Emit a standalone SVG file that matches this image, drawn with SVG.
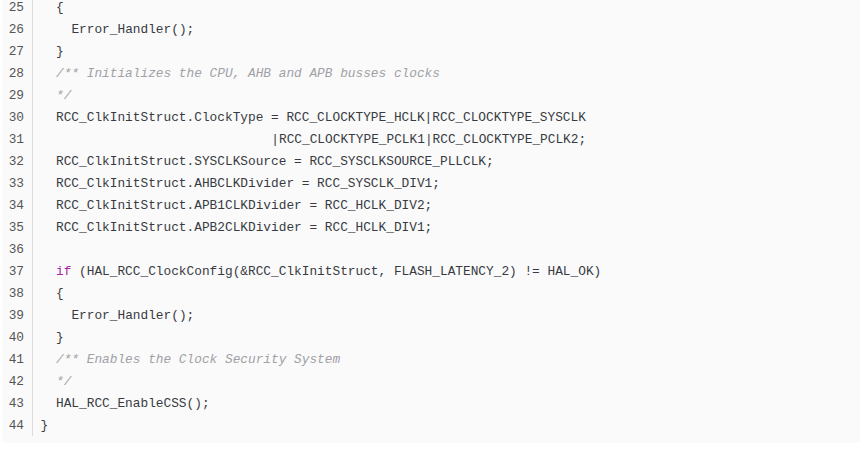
<svg xmlns="http://www.w3.org/2000/svg" width="860" height="449" viewBox="0 0 860 449">
<style>
.ln{font-family:"Liberation Mono","DejaVu Sans Mono",monospace;font-size:12.8px;fill:#555;text-anchor:end}
.c{font-family:"Liberation Mono","DejaVu Sans Mono",monospace;font-size:12.8px;fill:#383a42;white-space:pre}
.cm{fill:#a0a1a7;font-style:italic}
.kw{fill:#a626a4}
</style>
<rect x="0" y="0" width="860" height="449" fill="#ffffff"/>
<rect id="bg" x="2.5" y="-10" width="870" height="453" rx="4" fill="#fafafa"/>
<line x1="32.5" y1="0" x2="32.5" y2="436" stroke="#dcdcdc" stroke-width="1"/>
<g id="linenumbers">
<text class="ln" x="24" y="11.3">25</text>
<text class="ln" x="24" y="33.3">26</text>
<text class="ln" x="24" y="55.3">27</text>
<text class="ln" x="24" y="77.3">28</text>
<text class="ln" x="24" y="99.3">29</text>
<text class="ln" x="24" y="121.3">30</text>
<text class="ln" x="24" y="143.3">31</text>
<text class="ln" x="24" y="165.3">32</text>
<text class="ln" x="24" y="187.3">33</text>
<text class="ln" x="24" y="209.3">34</text>
<text class="ln" x="24" y="231.3">35</text>
<text class="ln" x="24" y="253.3">36</text>
<text class="ln" x="24" y="275.3">37</text>
<text class="ln" x="24" y="297.3">38</text>
<text class="ln" x="24" y="319.3">39</text>
<text class="ln" x="24" y="341.3">40</text>
<text class="ln" x="24" y="363.3">41</text>
<text class="ln" x="24" y="385.3">42</text>
<text class="ln" x="24" y="407.3">43</text>
<text class="ln" x="24" y="429.3">44</text>
</g>
<g id="code">
<text class="c" x="56" y="11.3">{</text>
<text class="c" x="71.4" y="33.3">Error_Handler();</text>
<text class="c" x="56" y="55.3">}</text>
<text class="c cm" x="56" y="77.3">/** Initializes the CPU, AHB and APB busses clocks</text>
<text class="c cm" x="56" y="99.3">*/</text>
<text class="c" x="56" y="121.3">RCC_ClkInitStruct.ClockType = RCC_CLOCKTYPE_HCLK|RCC_CLOCKTYPE_SYSCLK</text>
<text class="c" x="271.3" y="143.3">|RCC_CLOCKTYPE_PCLK1|RCC_CLOCKTYPE_PCLK2;</text>
<text class="c" x="56" y="165.3">RCC_ClkInitStruct.SYSCLKSource = RCC_SYSCLKSOURCE_PLLCLK;</text>
<text class="c" x="56" y="187.3">RCC_ClkInitStruct.AHBCLKDivider = RCC_SYSCLK_DIV1;</text>
<text class="c" x="56" y="209.3">RCC_ClkInitStruct.APB1CLKDivider = RCC_HCLK_DIV2;</text>
<text class="c" x="56" y="231.3">RCC_ClkInitStruct.APB2CLKDivider = RCC_HCLK_DIV1;</text>
<text class="c" x="56" y="275.3"><tspan class="kw">if</tspan> (HAL_RCC_ClockConfig(&amp;RCC_ClkInitStruct, FLASH_LATENCY_2) != HAL_OK)</text>
<text class="c" x="56" y="297.3">{</text>
<text class="c" x="71.4" y="319.3">Error_Handler();</text>
<text class="c" x="56" y="341.3">}</text>
<text class="c cm" x="56" y="363.3">/** Enables the Clock Security System</text>
<text class="c cm" x="56" y="385.3">*/</text>
<text class="c" x="56" y="407.3">HAL_RCC_EnableCSS();</text>
<text class="c" x="40.6" y="429.3">}</text>
</g>
</svg>
